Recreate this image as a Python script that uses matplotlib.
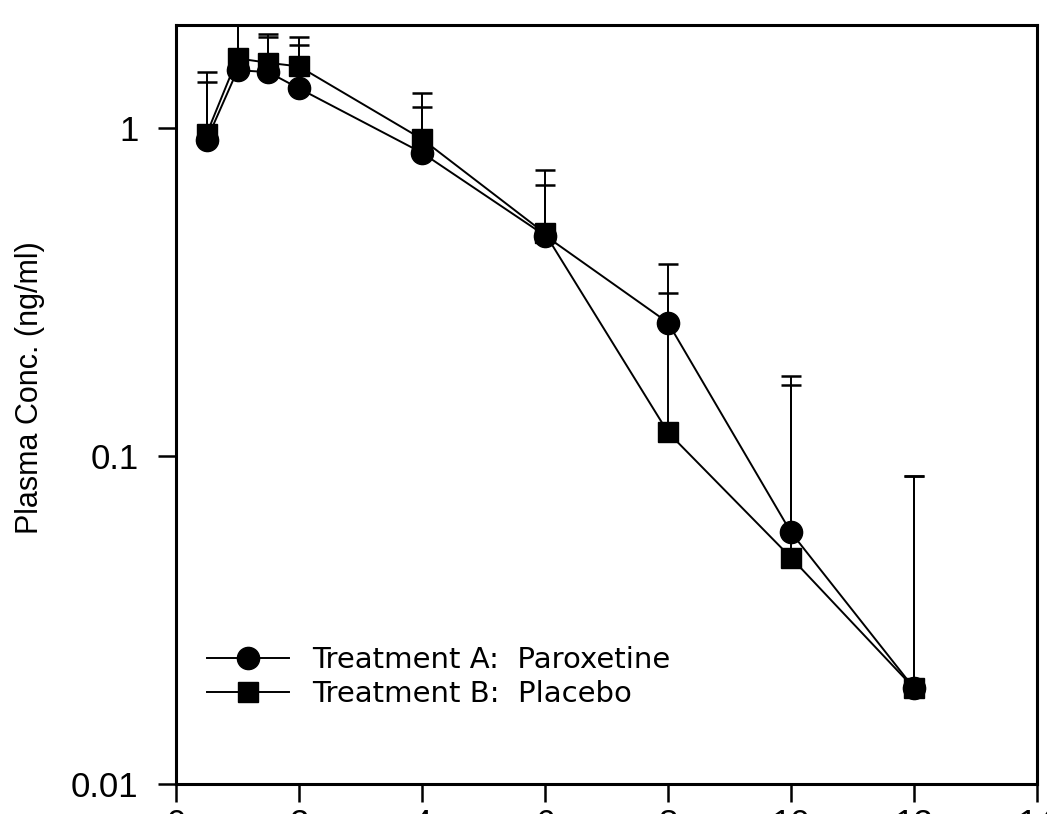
import matplotlib
matplotlib.use("Agg")
import matplotlib.pyplot as plt

# sampling times (h) and mean plasma levels (ng/ml)
time_h = [0.5, 1, 1.5, 2, 4, 6, 8, 10, 12]
paroxetine = [0.92, 1.50, 1.48, 1.32, 0.84, 0.47, 0.255, 0.0585, 0.0196]
placebo = [0.96, 1.63, 1.58, 1.54, 0.925, 0.477, 0.118, 0.049, 0.0196]

# top of the (upper only) error bars
paroxetine_top = [1.48, 2.3, 1.94, 1.79, 1.16, 0.669, 0.315, 0.165, 0.087]
placebo_top = [1.38, 2.4, 1.90, 1.89, 1.28, 0.743, 0.386, 0.175, 0.087]

x_ticks = [0, 2, 4, 6, 8, 10, 12, 14]
y_ticks = [0.01, 0.1, 1]
y_tick_labels = ['0.01', '0.1', '1']

plt.rcParams['font.family'] = ['Liberation Sans', 'DejaVu Sans']

W, H = 1047, 814
fig = plt.figure(figsize=(W / 100, H / 100), dpi=100)
ax = fig.add_axes([176 / W, 1 - 784 / H, (1037 - 176) / W, (784 - 25) / H])

ax.set_yscale('log')
ax.set_xlim(0, 14)
ax.set_ylim(0.01, 2.06)

# error bars: only the upper half is drawn
for y, top in ((paroxetine, paroxetine_top), (placebo, placebo_top)):
    up = [t - v for t, v in zip(top, y)]
    ax.errorbar(time_h, y, yerr=[[0] * len(y), up], fmt='none', ecolor='black',
                elinewidth=1.4, capsize=7.5, capthick=1.8, zorder=2)

ax.plot(time_h, paroxetine, color='black', linewidth=1.4, marker='o',
        markersize=16, label='Treatment A:  Paroxetine', zorder=3)
ax.plot(time_h, placebo, color='black', linewidth=1.4, marker='s',
        markersize=14, label='Treatment B:  Placebo', zorder=3)

for side in ax.spines.values():
    side.set_linewidth(2.2)
    side.set_color('black')

ax.set_xticks(x_ticks)
ax.set_xticklabels([str(t) for t in x_ticks])
ax.set_yticks(y_ticks)
ax.set_yticklabels(y_tick_labels)
ax.yaxis.set_minor_locator(matplotlib.ticker.NullLocator())
ax.tick_params(axis='both', direction='out', length=13, width=1.8,
               labelsize=25, colors='black')
ax.tick_params(axis='y', pad=14)
ax.tick_params(axis='x', pad=4)

fig.text(30 / W, 1 - 388 / H, 'Plasma Conc. (ng/ml)', rotation=90,
         ha='center', va='center', fontsize=22)

ax.legend(loc='upper left', bbox_to_anchor=(207 / W, 1 - 646 / H),
          bbox_transform=fig.transFigure, frameon=False, numpoints=1,
          borderpad=0, borderaxespad=0, handlelength=2.8, handletextpad=0.8,
          labelspacing=0.2, prop={'family': 'DejaVu Sans', 'size': 21})

fig.savefig('out.png', dpi=100, facecolor='white')
